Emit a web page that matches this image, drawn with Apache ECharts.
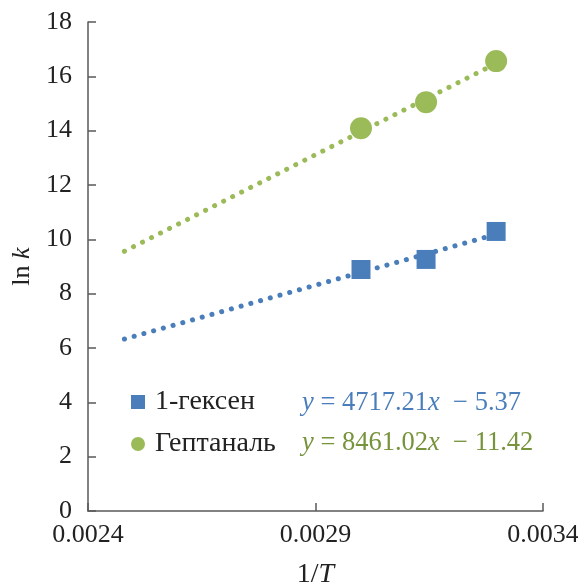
<!DOCTYPE html>
<html>
<head>
<meta charset="utf-8">
<script src="https://cdn.jsdelivr.net/npm/echarts@6/dist/echarts.min.js"></script>
<style>
	html, body { margin: 0; padding: 0; background: #fff; }
	#chart { width: 578px; height: 585px; }
</style>
</head>
<body>
<div id="chart"></div>
<script>
// 1-гексен
var hexeneX = [0.00300, 0.003143, 0.003297];
var hexeneY = [8.89, 9.26, 10.29];
// Гептаналь
var heptanalX = [0.00300, 0.003143, 0.003297];
var heptanalY = [14.09, 15.05, 16.56];
// линии тренда (концы)
var hexeneTrend = [[0.00248, 6.33], [0.0033, 10.20]];
var heptanalTrend = [[0.00248, 9.56], [0.0033, 16.50]];
var names = ['1-гексен', 'Гептаналь'];
var equations = ['4717.21', '− 5.37', '8461.02', '− 11.42'];

var blue = '#4a7ebb';
var green = '#9bbb59';
var greenText = '#77933c';
var axisColor = '#595959';
var font = 'Liberation Serif';

function pairs(xs, ys) {
	return xs.map(function (x, i) { return [x, ys[i]]; });
}

var myChart = echarts.init(document.getElementById('chart'));
var option = {
	animation: false,
	textStyle: { fontFamily: font },
	grid: { left: 88, right: 35, top: 22, bottom: 74, containLabel: false, outerBoundsMode: 'none' },
	legend: {
		orient: 'vertical',
		left: 131,
		top: 388,
		padding: 0,
		itemGap: 14,
		itemWidth: 14,
		itemHeight: 14,
		textStyle: { fontFamily: font, fontSize: 28, lineHeight: 28, color: '#222', padding: [0, 0, 0, 5] },
		data: [{ name: names[0], icon: 'rect' }, { name: names[1], icon: 'circle' }]
	},
	xAxis: {
		type: 'value',
		min: 0.0024,
		max: 0.0034,
		interval: 0.0005,
		name: '{a|1/}{b|T}',
		nameLocation: 'middle',
		nameGap: 50,
		nameTextStyle: {
			rich: {
				a: { fontFamily: font, fontSize: 28, color: '#222' },
				b: { fontFamily: font, fontSize: 28, color: '#222', fontStyle: 'italic' }
			}
		},
		axisLine: { lineStyle: { color: axisColor, width: 1.5 } },
		axisTick: { inside: true, length: 8, lineStyle: { color: axisColor, width: 1.5 } },
		axisLabel: {
			margin: 11,
			fontFamily: font, fontSize: 26, color: '#222',
			formatter: function (v) { return v.toFixed(4); }
		},
		splitLine: { show: false }
	},
	yAxis: {
		type: 'value',
		min: 0,
		max: 18,
		interval: 2,
		name: '{a|ln }{b|k}',
		nameLocation: 'middle',
		nameGap: 53,
		nameRotate: 90,
		nameTextStyle: {
			rich: {
				a: { fontFamily: font, fontSize: 26, color: '#222' },
				b: { fontFamily: font, fontSize: 26, color: '#222', fontStyle: 'italic' }
			}
		},
		axisLine: { show: true, lineStyle: { color: axisColor, width: 1.5 } },
		axisTick: { show: true, inside: true, length: 8, lineStyle: { color: axisColor, width: 1.5 } },
		axisLabel: { margin: 16, fontFamily: font, fontSize: 26, color: '#222' },
		splitLine: { show: false }
	},
	graphic: [{
		type: 'text',
		left: 302,
		top: 390,
		style: {
			text: '{i|y} = ' + equations[0] + '{i|x}  ' + equations[1],
			fontFamily: font, fontSize: 26.5, fill: blue,
			rich: { i: { fontFamily: font, fontSize: 26.5, fontStyle: 'italic', color: blue } }
		}
	}, {
		type: 'text',
		left: 302,
		top: 430,
		style: {
			text: '{i|y} = ' + equations[2] + '{i|x}  ' + equations[3],
			fontFamily: font, fontSize: 26.5, fill: greenText,
			rich: { i: { fontFamily: font, fontSize: 26.5, fontStyle: 'italic', color: greenText } }
		}
	}],
	series: [{
		type: 'line',
		data: hexeneTrend,
		symbol: 'none',
		silent: true,
		lineStyle: { color: blue, width: 5, type: [0.1, 10], cap: 'round' }
	}, {
		type: 'line',
		data: heptanalTrend,
		symbol: 'none',
		silent: true,
		lineStyle: { color: green, width: 5, type: [0.1, 10], cap: 'round' }
	}, {
		name: names[0],
		type: 'scatter',
		symbol: 'rect',
		symbolSize: 19,
		itemStyle: { color: blue, opacity: 1 },
		data: pairs(hexeneX, hexeneY)
	}, {
		name: names[1],
		type: 'scatter',
		symbol: 'circle',
		symbolSize: 22,
		itemStyle: { color: green, opacity: 1 },
		data: pairs(heptanalX, heptanalY)
	}]
};
myChart.setOption(option);
</script>
</body>
</html>
